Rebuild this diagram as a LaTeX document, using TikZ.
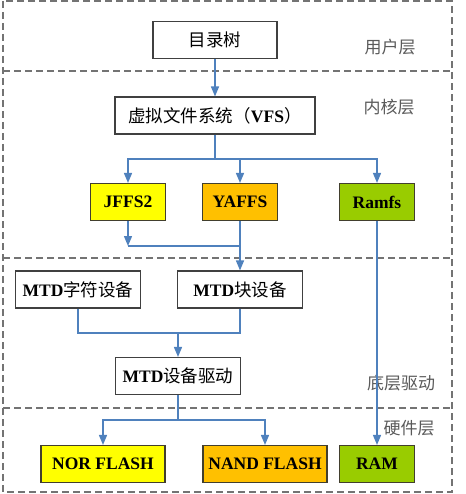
\documentclass[tikz,border=0pt]{standalone}
\usepackage{fontspec}
\setmainfont{Liberation Serif}
\newfontfamily\cjk{Noto Sans CJK SC}
\usepackage{tikz}
\usetikzlibrary{arrows.meta, positioning}
\newcommand{\zh}[1]{{\cjk\mdseries #1}}
\definecolor{linkblue}{HTML}{4F81BD}
\definecolor{fsyellow}{HTML}{FFFF00}
\definecolor{fsorange}{HTML}{FFC000}
\definecolor{fsgreen}{HTML}{99CC00}
\tikzset{
  box/.style={draw=black!75, line width=1.1pt, fill=white, minimum height=37pt,
    inner sep=0pt, font={\fontsize{17.5}{19}\selectfont\bfseries}},
  fsbox/.style={box, draw=black!70!olive, minimum width=75pt},
  link/.style={draw=linkblue, line width=1.4pt},
  layer/.style={text=black!65, font={\cjk\fontsize{17}{19}\selectfont}},
  frame/.style={draw=black!55, line width=1.3pt, dash pattern=on 7pt off 4pt},
}

\begin{document}
\begin{tikzpicture}[>={Triangle[length=10pt,width=8pt]}, x=1pt, y=-1pt]
    \useasboundingbox (0,0) rectangle (465,494);

    % layers
    \draw[frame] (3,1) rectangle (452,492);
    \foreach \y in {71,258,408}
    {\draw[frame] (3,\y) -- (452,\y);}

    \node[layer] (user) at (390,47) {用户层};
    \node[layer] (kernel) at (389,107) {内核层};
    \node[layer] (driver) at (401,383) {底层驱动};
    \node[layer] (hw) at (409,428) {硬件层};

    \node[box, minimum width=124pt] (tree) at (215,40) {\zh{目录树}};
    \node[box, minimum width=200pt] (vfs) at (215,115.5) {\zh{虚拟文件系统（}VFS\zh{）}};

    \node[fsbox, fill=fsyellow] (jffs) at (128,202) {JFFS2};
    \node[fsbox, fill=fsorange] (yaffs) at (240,202) {YAFFS};
    \node[fsbox, fill=fsgreen] (ramfs) at (377,202) {Ramfs};

    \node[box, minimum width=125pt] (mtdc) at (78,289.5) {MTD\zh{字符设备}};
    \node[box, minimum width=125pt] (mtdb) at (240,289.5) {MTD\zh{块设备}};
    \node[box, minimum width=125pt] (mtdd) at (178,376) {MTD\zh{设备驱动}};

    \node[fsbox, fill=fsyellow, minimum width=124pt] (nor) at (103,464) {NOR FLASH};
    \node[fsbox, fill=fsorange, minimum width=124pt] (nand) at (265,464) {NAND FLASH};
    \node[fsbox, fill=fsgreen] (ram) at (377,464) {RAM};

    \coordinate (vsplit) at (215,159);
    \coordinate (fsjoin) at (240,246);
    \coordinate (mjoin) at (178,333);
    \coordinate (hsplit) at (178,420);

    \draw[link,->] (tree) -- (vfs);
    \draw[link,->] (vfs.south) -- (vsplit) -| (jffs.north);
    \draw[link,->] (vsplit) -| (yaffs.north);
    \draw[link,->] (vsplit) -| (ramfs.north);
    \draw[link,->] (jffs.south) -- (jffs.south |- fsjoin);
    \draw[link] (jffs.south |- fsjoin) -- (fsjoin);
    \draw[link,->] (yaffs) -- (mtdb);
    \draw[link] (mtdc.south) |- (mjoin) -| (mtdb.south);
    \draw[link,->] (mjoin) -- (mtdd);
    \draw[link,->] (mtdd.south) -- (hsplit) -| (nor.north);
    \draw[link,->] (hsplit) -| (nand.north);
    \draw[link,->] (ramfs) -- (ram);

\end{tikzpicture}
\end{document}
